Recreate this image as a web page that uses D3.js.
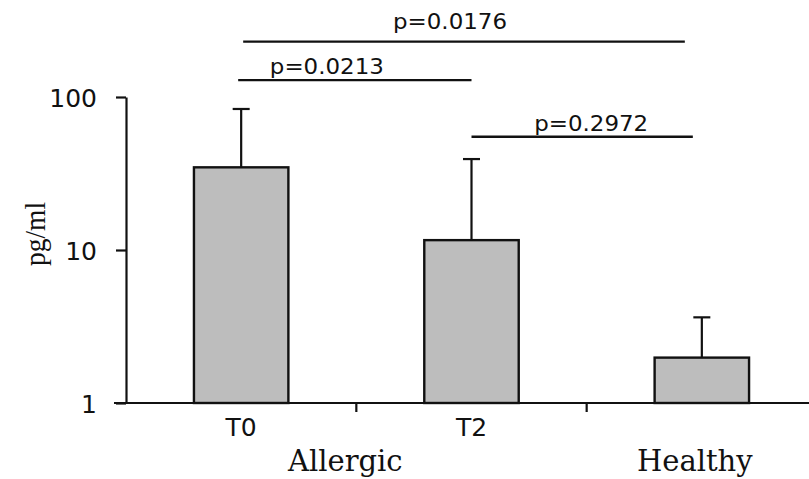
<!DOCTYPE html>
<html>
<head>
<meta charset="utf-8">
<script src="https://cdnjs.cloudflare.com/ajax/libs/d3/7.8.5/d3.min.js"></script>
<style>
  body { margin: 0; background: #fff; }
  svg { display: block; }
</style>
</head>
<body>
<svg id="chart" width="809" height="479"></svg>
<script>
// values (pg/ml, log axis)
var categories = ["T0", "T2", "Healthy"];
var means = [34.7, 11.6, 1.98];
var errTops = [83.5, 39.3, 3.63];
var tickValues = [1, 10, 100];
var groupLabels = ["Allergic", "Healthy"];
var groupSpans = [["T0", "T2"], ["Healthy", "Healthy"]];

// significance lines: from, to, level (pg/ml on the same log scale), label
var sigFrom = ["T0", "T0", "T2"];
var sigTo = ["Healthy", "T2", "Healthy"];
var sigLevel = [230, 129, 55];
var sigLabels = ["p=0.0176", "p=0.0213", "p=0.2972"];

// layout tweaks for the annotations (pixels)
var sigLayout = [
  { x0: 2, x1: -17, dx: -14, dy: -13 },
  { x0: -3, x1: 0, dx: -28, dy: -6 },
  { x0: 0, x1: -9, dx: 9, dy: -6 }
];

var svg = d3.select("#chart");

var x = d3.scaleBand()
  .domain(categories)
  .range([126, 817])
  .paddingInner(0.59)
  .paddingOuter(0.295);

var y = d3.scaleLog()
  .domain([1, 100])
  .range([403, 97]);

var mid = function(c) { return x(c) + x.bandwidth() / 2; };

// y axis
var yAxis = svg.append("g")
  .attr("transform", "translate(126,0)")
  .call(d3.axisLeft(y)
    .tickValues(tickValues)
    .tickFormat(d3.format("d"))
    .tickSize(10)
    .tickSizeOuter(0)
    .tickPadding(19));
yAxis.selectAll("path, line").attr("stroke", "#111").attr("stroke-width", 2.2);
yAxis.selectAll("text")
  .attr("fill", "#111")
  .style("font-family", "DejaVu Sans")
  .style("font-size", "25px")
  .attr("dy", "0.36em");

svg.append("text")
  .attr("transform", "translate(45,234) rotate(-90)")
  .attr("text-anchor", "middle")
  .attr("textLength", 64)
  .attr("lengthAdjust", "spacingAndGlyphs")
  .style("font-family", "Liberation Serif")
  .style("font-size", "29px")
  .attr("fill", "#111")
  .text("pg/ml");

// bars
svg.selectAll("rect.bar")
  .data(means)
  .enter()
  .append("rect")
  .attr("class", "bar")
  .attr("x", function(d, i) { return x(categories[i]); })
  .attr("width", x.bandwidth())
  .attr("y", function(d) { return y(d); })
  .attr("height", function(d) { return y(1) - y(d); })
  .attr("fill", "#bdbdbd")
  .attr("stroke", "#111")
  .attr("stroke-width", 2.4);

// error bars (upper only)
var errG = svg.append("g").attr("stroke", "#111").attr("stroke-width", 2.2);
errG.selectAll("line.stem")
  .data(errTops)
  .enter()
  .append("line")
  .attr("x1", function(d, i) { return mid(categories[i]); })
  .attr("x2", function(d, i) { return mid(categories[i]); })
  .attr("y1", function(d, i) { return y(means[i]); })
  .attr("y2", function(d) { return y(d); });
errG.selectAll("line.cap")
  .data(errTops)
  .enter()
  .append("line")
  .attr("x1", function(d, i) { return mid(categories[i]) - 8.5; })
  .attr("x2", function(d, i) { return mid(categories[i]) + 8.5; })
  .attr("y1", function(d) { return y(d); })
  .attr("y2", function(d) { return y(d); });

// x baseline + ticks between groups
svg.append("line")
  .attr("x1", 114)
  .attr("x2", x.range()[1])
  .attr("y1", y(1))
  .attr("y2", y(1))
  .attr("stroke", "#111")
  .attr("stroke-width", 2.2);

var gap = x.step() * x.paddingInner() / 2;
svg.selectAll("line.xtick")
  .data(categories.slice(1))
  .enter()
  .append("line")
  .attr("x1", function(d) { return x(d) - gap; })
  .attr("x2", function(d) { return x(d) - gap; })
  .attr("y1", y(1))
  .attr("y2", y(1) + 9)
  .attr("stroke", "#111")
  .attr("stroke-width", 2.2);

svg.selectAll("text.xlab")
  .data(categories.slice(0, 2))
  .enter()
  .append("text")
  .attr("x", function(d) { return mid(d); })
  .attr("y", y(1) + 33)
  .attr("text-anchor", "middle")
  .style("font-family", "DejaVu Sans")
  .style("font-size", "25px")
  .attr("fill", "#111")
  .text(function(d) { return d; });

svg.selectAll("text.group")
  .data(groupLabels)
  .enter()
  .append("text")
  .attr("x", function(d, i) {
    var a = mid(groupSpans[i][0]), b = mid(groupSpans[i][1]);
    return (a + b) / 2 - (i === 0 ? 11 : 7);
  })
  .attr("y", y(1) + 68)
  .attr("text-anchor", "middle")
  .style("font-family", "DejaVu Serif")
  .style("font-size", "29px")
  .attr("fill", "#111")
  .text(function(d) { return d; });

// significance annotations
sigLabels.forEach(function(lab, i) {
  var l = sigLayout[i];
  var xa = mid(sigFrom[i]) + l.x0;
  var xb = mid(sigTo[i]) + l.x1;
  var yy = y(sigLevel[i]);
  svg.append("line")
    .attr("x1", xa).attr("x2", xb)
    .attr("y1", yy).attr("y2", yy)
    .attr("stroke", "#111")
    .attr("stroke-width", 2.4);
  svg.append("text")
    .attr("x", (xa + xb) / 2 + l.dx)
    .attr("y", yy + l.dy)
    .attr("text-anchor", "middle")
    .attr("textLength", 114)
    .attr("lengthAdjust", "spacingAndGlyphs")
    .style("font-family", "DejaVu Sans")
    .style("font-size", "21px")
    .attr("fill", "#111")
    .text(lab);
});
</script>
</body>
</html>
